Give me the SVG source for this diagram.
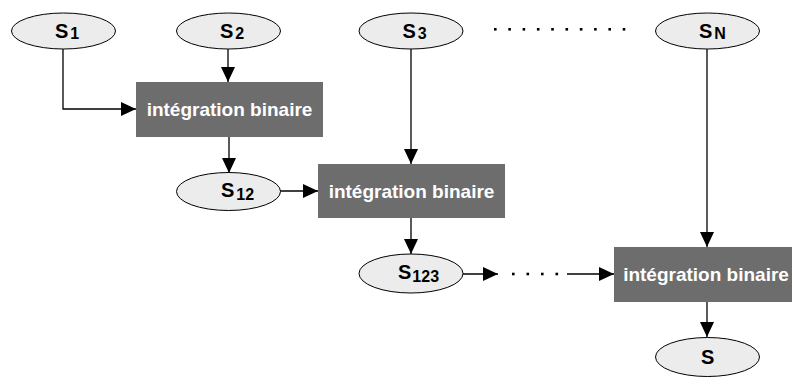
<svg xmlns="http://www.w3.org/2000/svg" width="792" height="378" viewBox="0 0 792 378">
<defs>
<style>
.node ellipse{fill:#ececec;stroke:#000;stroke-width:1}
.lbl{font-family:"Liberation Sans",Arial,sans-serif;font-weight:bold;font-size:20px;fill:#000}
.sub{font-size:16px}
.box rect{fill:#6d6d6d}
.box text{font-family:"Liberation Sans",Arial,sans-serif;font-weight:bold;font-size:19px;fill:#fff;text-anchor:middle}
.edge{fill:none;stroke:#000;stroke-width:1.3}
.dot{fill:#000}
</style>
<marker id="ah" viewBox="0 0 15 14" refX="15" refY="7" markerWidth="15" markerHeight="14" markerUnits="userSpaceOnUse" orient="auto">
<path d="M0,0 L15,7 L0,14 Z" fill="#000"/>
</marker>
</defs>
<rect width="792" height="378" fill="#fff"/>

<g id="connectors">
<polyline class="edge" points="63,49 63,109 136,109" marker-end="url(#ah)"/>
<line class="edge" x1="228" y1="49" x2="228" y2="82" marker-end="url(#ah)"/>
<line class="edge" x1="229" y1="137" x2="229" y2="173" marker-end="url(#ah)"/>
<line class="edge" x1="280" y1="191" x2="318" y2="191" marker-end="url(#ah)"/>
<line class="edge" x1="411" y1="49" x2="411" y2="164" marker-end="url(#ah)"/>
<line class="edge" x1="411" y1="218" x2="411" y2="254" marker-end="url(#ah)"/>
<line class="edge" x1="463" y1="274" x2="498" y2="274" marker-end="url(#ah)"/>
<line class="edge" x1="567" y1="274" x2="614" y2="274" marker-end="url(#ah)"/>
<line class="edge" x1="707" y1="49" x2="707" y2="247" marker-end="url(#ah)"/>
<line class="edge" x1="707" y1="302" x2="707" y2="337" marker-end="url(#ah)"/>
<g class="dot">
<rect x="512" y="272.7" width="2.6" height="2.6"/>
<rect x="526.5" y="272.7" width="2.6" height="2.6"/>
<rect x="541" y="272.7" width="2.6" height="2.6"/>
<rect x="555.5" y="272.7" width="2.6" height="2.6"/>
</g>
</g>

<g id="dots-top" class="dot">
<rect x="494" y="28" width="2.6" height="2.6"/>
<rect x="508.3" y="28" width="2.6" height="2.6"/>
<rect x="522.6" y="28" width="2.6" height="2.6"/>
<rect x="536.9" y="28" width="2.6" height="2.6"/>
<rect x="551.2" y="28" width="2.6" height="2.6"/>
<rect x="565.5" y="28" width="2.6" height="2.6"/>
<rect x="579.8" y="28" width="2.6" height="2.6"/>
<rect x="594.1" y="28" width="2.6" height="2.6"/>
<rect x="608.4" y="28" width="2.6" height="2.6"/>
<rect x="622.7" y="28" width="2.6" height="2.6"/>
</g>

<g id="S1" class="node">
<ellipse cx="63.5" cy="31" rx="52" ry="18"/>
<text class="lbl" x="55" y="38">S<tspan class="sub" dx="2" dy="1">1</tspan></text>
</g>
<g id="S2" class="node">
<ellipse cx="228.5" cy="31" rx="52" ry="18"/>
<text class="lbl" x="220" y="38">S<tspan class="sub" dx="2" dy="1">2</tspan></text>
</g>
<g id="S3" class="node">
<ellipse cx="411" cy="31" rx="52" ry="18"/>
<text class="lbl" x="402.5" y="38">S<tspan class="sub" dx="2" dy="1">3</tspan></text>
</g>
<g id="SN" class="node">
<ellipse cx="707.5" cy="31" rx="52" ry="18"/>
<text class="lbl" x="699" y="38">S<tspan class="sub" dx="2" dy="1">N</tspan></text>
</g>

<g id="B1" class="box">
<rect x="136" y="82" width="187" height="55"/>
<text x="229.5" y="116">intégration binaire</text>
</g>

<g id="S12" class="node">
<ellipse cx="228.5" cy="191.5" rx="52" ry="19"/>
<text class="lbl" x="221" y="197">S<tspan class="sub" dx="2" dy="3">12</tspan></text>
</g>

<g id="B2" class="box">
<rect x="318" y="164" width="187" height="54"/>
<text x="411.5" y="197.5">intégration binaire</text>
</g>

<g id="S123" class="node">
<ellipse cx="411" cy="273.5" rx="52" ry="19.5"/>
<text class="lbl" x="398" y="279">S<tspan class="sub" dx="1" dy="3">123</tspan></text>
</g>

<g id="B3" class="box">
<rect x="614" y="247" width="187" height="55"/>
<text x="706" y="281">intégration binaire</text>
</g>

<g id="S" class="node">
<ellipse cx="707.5" cy="357" rx="52" ry="19.5"/>
<text class="lbl" x="701" y="364">S</text>
</g>
</svg>
